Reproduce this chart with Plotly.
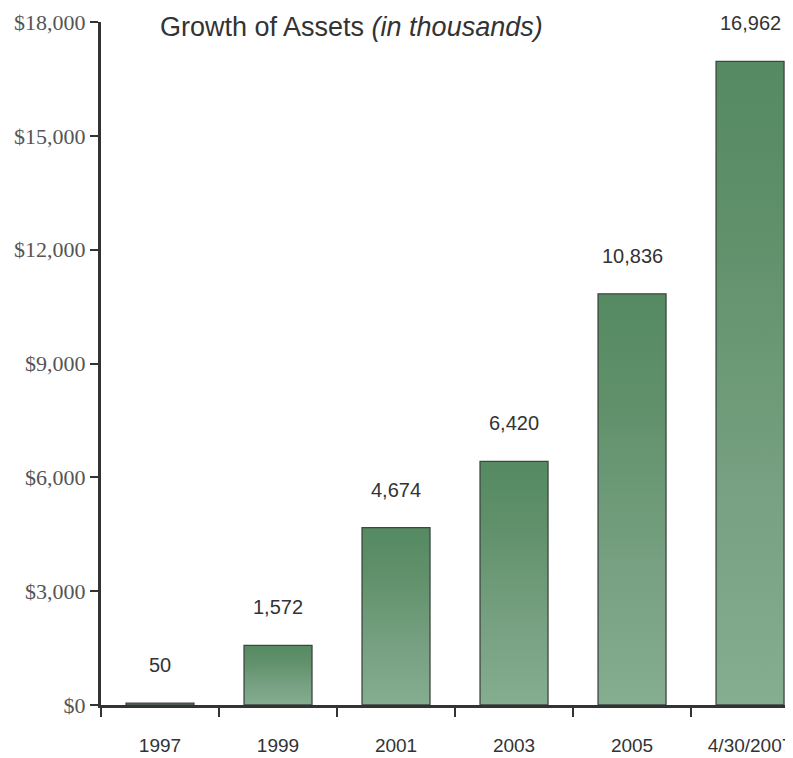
import plotly.graph_objects as go

categories = ["1997", "1999", "2001", "2003", "2005", "4/30/2007"]
assets = [50, 1572, 4674, 6420, 10836, 16962]
value_labels = ["50", "1,572", "4,674", "6,420", "10,836", "16,962"]
y_ticks = [0, 3000, 6000, 9000, 12000, 15000, 18000]
y_tick_labels = ["$0", "$3,000", "$6,000", "$9,000", "$12,000", "$15,000", "$18,000"]

NARROW = "Liberation Sans, Arial, sans-serif"
SERIF = "Liberation Serif, Times New Roman, serif"
SANS = "Liberation Sans, Arial, Helvetica, sans-serif"

half = 0.288
grad = [[0, "#85ad90"], [0.35, "#76a081"], [0.75, "#5f9069"], [1, "#558a62"]]

fig = go.Figure()
for i, v in enumerate(assets):
    fig.add_trace(go.Scatter(
        x=[i - half, i - half, i + half, i + half, i - half],
        y=[0, v, v, 0, 0],
        mode="lines",
        fill="toself",
        fillgradient=dict(type="vertical", colorscale=grad),
        line=dict(color="#3d473f", width=1.3),
        hoverinfo="skip",
        showlegend=False,
    ))
    fig.add_annotation(
        x=i, y=v, text=value_labels[i], showarrow=False,
        yanchor="bottom", yshift=25,
        font=dict(family=NARROW, size=20, color="#333333"),
    )

fig.add_annotation(
    xref="paper", yref="paper", x=0.082, y=0.993,
    xanchor="left", yanchor="middle", showarrow=False,
    text="Growth of Assets <i>(in thousands)</i>",
    font=dict(family=SANS, size=27, color="#333333"),
)

fig.update_layout(
    width=785, height=750,
    margin=dict(l=93, r=0, t=14, b=53, autoexpand=False),
    plot_bgcolor="white", paper_bgcolor="white",
    showlegend=False,
)
fig.update_xaxes(
    range=[-0.5, 5.364], automargin=False,
    tickmode="array", tickvals=list(range(len(categories))), ticktext=categories,
    ticks="", showgrid=False, zeroline=False,
    showline=True, linecolor="#333333", linewidth=3,
    tickfont=dict(family=NARROW, size=19, color="#333333"),
    ticklabelstandoff=21, ticklabeloverflow="allow",
    minor=dict(tickmode="linear", tick0=-0.5, dtick=1, ticks="outside",
               ticklen=9, tickwidth=2, tickcolor="#333333", showgrid=False),
)
fig.update_yaxes(
    range=[0, 18000], automargin=False,
    tickmode="array", tickvals=y_ticks, ticktext=y_tick_labels,
    ticks="outside", ticklen=8, tickwidth=2, tickcolor="#333333",
    showgrid=False, zeroline=False,
    showline=True, linecolor="#333333", linewidth=3,
    tickfont=dict(family=SERIF, size=22, color="#555555"),
    ticklabeloverflow="allow",
)

fig.write_html("out.html")
